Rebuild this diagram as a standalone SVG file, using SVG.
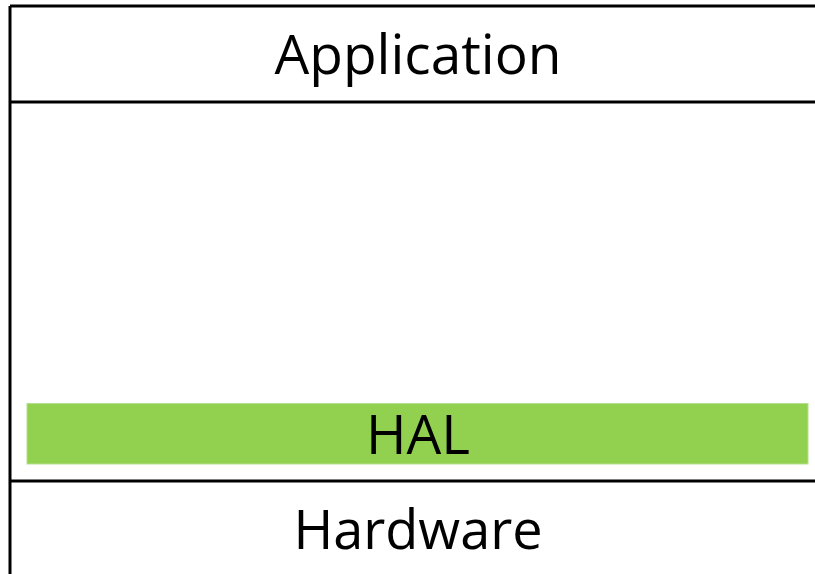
<svg xmlns="http://www.w3.org/2000/svg" width="815" height="574" viewBox="0 0 815 574">
  <style>
    .frame { stroke: #000; stroke-width: 3; fill: none; }
    .label { font-family: "Open Sans", "DejaVu Sans", sans-serif; fill: #000; text-anchor: middle; }
  </style>
  <rect width="815" height="574" fill="#fff"/>
  <g id="frame">
    <line class="frame" x1="10" y1="6" x2="815" y2="6"/>
    <line class="frame" x1="10" y1="6" x2="10" y2="574"/>
  </g>
  <g id="application">
    <line class="frame" x1="10" y1="102" x2="815" y2="102"/>
    <text class="label" x="418" y="74" font-size="55">Application</text>
  </g>
  <g id="hal">
    <rect x="27" y="403.5" width="781" height="60.5" fill="#92d050" stroke="#b6e08e" stroke-width="1"/>
    <text class="label" x="418" y="454" font-size="55">HAL</text>
  </g>
  <g id="hardware">
    <line class="frame" x1="10" y1="481" x2="815" y2="481"/>
    <text class="label" x="418" y="549" font-size="54">Hardware</text>
  </g>
</svg>
